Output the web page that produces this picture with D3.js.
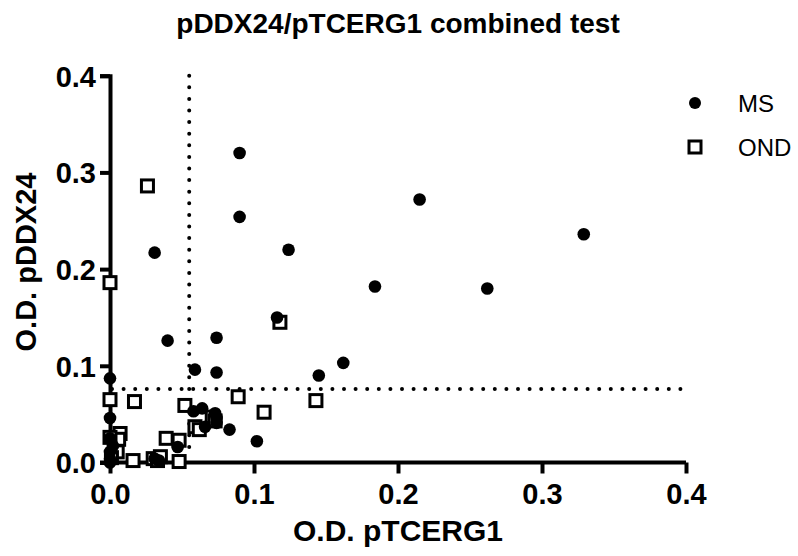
<!DOCTYPE html>
<html>
<head>
<meta charset="utf-8" />
<title>pDDX24/pTCERG1 combined test</title>
<style>
  body { margin: 0; background: #fff; }
  text { font-family: "Liberation Sans", Arial, sans-serif; fill: #000; }
  .axis path, .axis line { stroke: #000; stroke-width: 4px; }
  .axis text { font-size: 29px; font-weight: bold; }
  .cutoff { stroke: #000; stroke-width: 4px; stroke-linecap: round; stroke-dasharray: 0 11.6; fill: none; }
</style>
</head>
<body>
<script src="https://cdn.jsdelivr.net/npm/d3@7"></script>
<script>
// MS group: [O.D. pTCERG1, O.D. pDDX24]
var msX = [0.090, 0.090, 0.031, 0.124, 0.116, 0.040, 0.074, 0.215, 0.329, 0.184, 0.262,
           0.162, 0.145, 0.059, 0.074, 0.000, 0.000, 0.102, 0.083, 0.058, 0.064, 0.073,
           0.074, 0.074, 0.047, 0.000, 0.000, 0.000, 0.000, 0.031, 0.034, 0.066, 0.002];
var msY = [0.320, 0.254, 0.217, 0.220, 0.150, 0.126, 0.129, 0.272, 0.236, 0.182, 0.180,
           0.103, 0.090, 0.096, 0.093, 0.087, 0.046, 0.022, 0.034, 0.053, 0.056, 0.051,
           0.046, 0.041, 0.016, 0.025, 0.011, 0.004, 0.000, 0.004, 0.002, 0.037, 0.017];
// OND group
var ondX = [0.026, 0.000, 0.118, 0.143, 0.000, 0.017, 0.089, 0.107, 0.052, 0.059, 0.062,
            0.071, 0.073, 0.039, 0.048, 0.007, 0.006, 0.000, 0.005, 0.016, 0.030, 0.033,
            0.035, 0.048, 0.001];
var ondY = [0.286, 0.186, 0.145, 0.064, 0.065, 0.063, 0.068, 0.052, 0.059, 0.037, 0.034,
            0.047, 0.043, 0.025, 0.023, 0.030, 0.024, 0.026, 0.011, 0.002, 0.004, 0.002,
            0.006, 0.001, 0.005];
// cut-off lines
var cutX = [0.055];
var cutY = [0.076];
var ticks = [0.0, 0.1, 0.2, 0.3, 0.4];
var groups = ["MS", "OND"];

var width = 798, height = 556;

var x = d3.scaleLinear().domain([0, 0.4]).range([110, 686]);
var y = d3.scaleLinear().domain([0, 0.4]).range([462.5, 75.7]);

var svg = d3.select("body").append("svg")
    .attr("width", width)
    .attr("height", height);

// title
svg.append("text")
    .attr("x", 398).attr("y", 33)
    .attr("text-anchor", "middle")
    .style("font-size", "28px").style("font-weight", "bold")
    .text("pDDX24/pTCERG1 combined test");

// axes
var xAxis = svg.append("g").attr("class", "axis")
    .attr("transform", "translate(0," + y(0) + ")")
    .call(d3.axisBottom(x).tickValues(ticks).tickFormat(d3.format(".1f")).tickSizeOuter(0).tickSize(11).tickPadding(10));
xAxis.select(".domain").attr("d", "M" + (x(0) - 10) + ",0H" + x(0.4));

var yAxis = svg.append("g").attr("class", "axis")
    .attr("transform", "translate(" + x(0) + ",0)")
    .call(d3.axisLeft(y).tickValues(ticks).tickFormat(d3.format(".1f")).tickSizeOuter(0).tickSize(10).tickPadding(4));
yAxis.selectAll("text").attr("dy", "0.36em");

// axis titles
svg.append("text")
    .attr("x", 398).attr("y", 541)
    .attr("text-anchor", "middle")
    .style("font-size", "30px").style("font-weight", "bold")
    .text("O.D. pTCERG1");

svg.append("text")
    .attr("transform", "translate(36," + 262 + ") rotate(-90)")
    .attr("text-anchor", "middle")
    .style("font-size", "29px").style("font-weight", "bold")
    .text("O.D. pDDX24");

// cut-off lines
svg.selectAll(".cutx").data(cutX).enter().append("line")
    .attr("class", "cutoff")
    .attr("x1", function(d) { return x(d); }).attr("x2", function(d) { return x(d); })
    .attr("y1", y(0.4)).attr("y2", y(0) - 6);

svg.selectAll(".cuty").data(cutY).enter().append("line")
    .attr("class", "cutoff")
    .attr("y1", function(d) { return y(d); }).attr("y2", function(d) { return y(d); })
    .attr("x1", x(0) + 2).attr("x2", x(0.4));

// points
var ms = msX.map(function(v, i) { return [v, msY[i]]; });
var ond = ondX.map(function(v, i) { return [v, ondY[i]]; });

svg.append("g").selectAll("rect")
    .data(ond).enter().append("rect")
    .attr("x", function(d) { return x(d[0]) - 6; })
    .attr("y", function(d) { return y(d[1]) - 6; })
    .attr("width", 12).attr("height", 12)
    .attr("fill", "#fff").attr("stroke", "#000").attr("stroke-width", 3);

svg.append("g").selectAll("circle")
    .data(ms).enter().append("circle")
    .attr("cx", function(d) { return x(d[0]); })
    .attr("cy", function(d) { return y(d[1]); })
    .attr("r", 6.3)
    .attr("fill", "#000");

// legend
var legend = svg.append("g").attr("transform", "translate(695,103)");
legend.append("circle").attr("cx", 0).attr("cy", 0).attr("r", 6).attr("fill", "#000");
legend.append("rect").attr("x", -6).attr("y", 38).attr("width", 12).attr("height", 12)
    .attr("fill", "#fff").attr("stroke", "#000").attr("stroke-width", 3);
legend.selectAll("text").data(groups).enter().append("text")
    .attr("x", 43)
    .attr("y", function(d, i) { return i * 44 + 9; })
    .style("font-size", "24px")
    .text(function(d) { return d; });
</script>
</body>
</html>
